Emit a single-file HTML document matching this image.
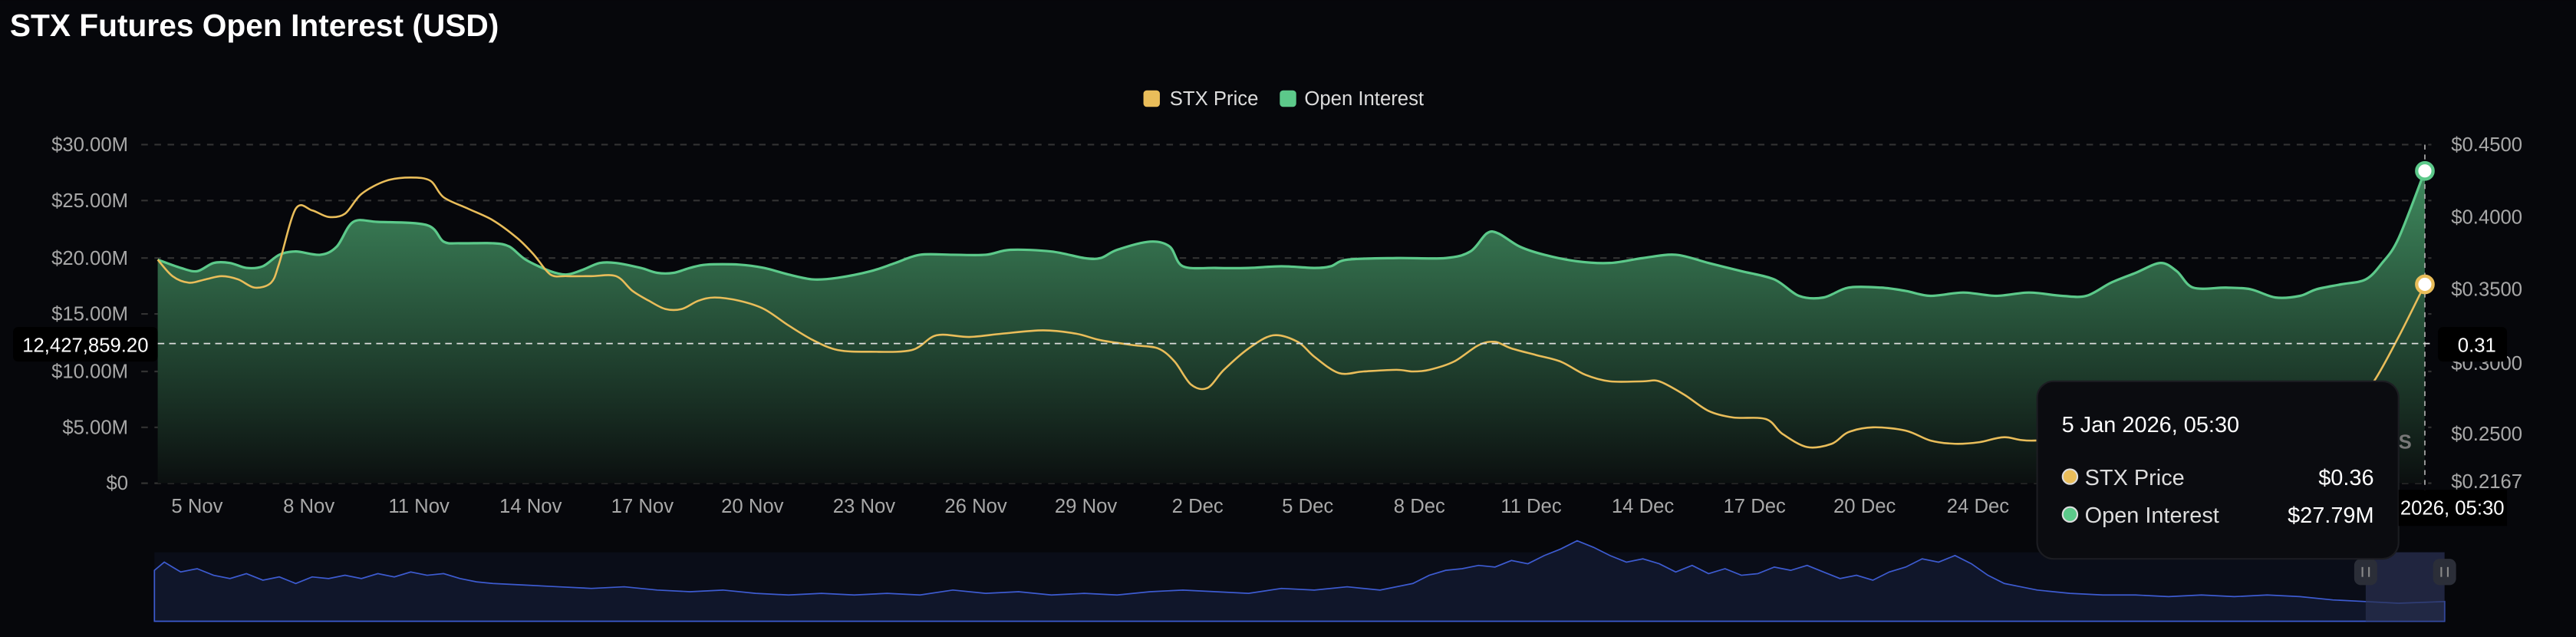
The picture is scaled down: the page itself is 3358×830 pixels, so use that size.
<!DOCTYPE html>
<html><head><meta charset="utf-8"><style>
html,body{margin:0;padding:0;background:#06070b;}
svg{display:block;}
text{font-family:"Liberation Sans",sans-serif;}
</style></head><body>
<svg width="3358" height="830" viewBox="0 0 1568 387.56" xmlns="http://www.w3.org/2000/svg">
<defs>
<linearGradient id="g" x1="0" y1="0" x2="0" y2="1">
<stop offset="0" stop-color="#3f8a5e"/><stop offset="0.45" stop-color="#28543b"/><stop offset="1" stop-color="#0b0f0f"/>
</linearGradient>
</defs>
<rect width="1568" height="388" fill="#06070b"/>
<text x="6" y="22" font-size="19" font-weight="bold" fill="#fff">STX Futures Open Interest (USD)</text>
<rect x="696" y="55" width="10" height="10" rx="2" fill="#e9bd5a"/>
<text x="712" y="64" font-size="12" fill="#ddd">STX Price</text>
<rect x="779" y="55" width="10" height="10" rx="2" fill="#5cc98a"/>
<text x="794" y="64" font-size="12" fill="#ddd">Open Interest</text>
<g stroke="#333" stroke-dasharray="4 4" stroke-width="1">
<line x1="86" y1="88" x2="1480" y2="88"/><line x1="86" y1="122" x2="1480" y2="122"/><line x1="86" y1="157" x2="1480" y2="157"/><line x1="86" y1="191" x2="1480" y2="191"/><line x1="86" y1="226" x2="1480" y2="226"/><line x1="86" y1="260" x2="1480" y2="260"/><line x1="86" y1="294" x2="1480" y2="294"/>
</g>
<g font-size="12" fill="#a8a8a8" text-anchor="end">
<text x="78" y="92">$30.00M</text><text x="78" y="126">$25.00M</text><text x="78" y="161">$20.00M</text><text x="78" y="195">$15.00M</text><text x="78" y="230">$10.00M</text><text x="78" y="264">$5.00M</text><text x="78" y="298">$0</text>
</g>
<g font-size="12" fill="#a8a8a8">
<text x="1492" y="92">$0.4500</text><text x="1492" y="136">$0.4000</text><text x="1492" y="180">$0.3500</text><text x="1492" y="225">$0.3000</text><text x="1492" y="268">$0.2500</text><text x="1492" y="297">$0.2167</text>
</g>
<g font-size="12" fill="#a8a8a8" text-anchor="middle">
<text x="120" y="312">5 Nov</text><text x="188" y="312">8 Nov</text><text x="255" y="312">11 Nov</text><text x="323" y="312">14 Nov</text><text x="391" y="312">17 Nov</text><text x="458" y="312">20 Nov</text><text x="526" y="312">23 Nov</text><text x="594" y="312">26 Nov</text><text x="661" y="312">29 Nov</text><text x="729" y="312">2 Dec</text><text x="796" y="312">5 Dec</text><text x="864" y="312">8 Dec</text><text x="932" y="312">11 Dec</text><text x="1000" y="312">14 Dec</text><text x="1068" y="312">17 Dec</text><text x="1135" y="312">20 Dec</text><text x="1204" y="312">24 Dec</text>
</g>
<path id="oiA" fill="url(#g)" d=""/>
<path id="oiL" fill="none" stroke="#5cc98a" stroke-width="1.5" d=""/>
<path id="prL" fill="none" stroke="#e9bd5a" stroke-width="1.2" d=""/>
<line x1="1476" y1="88" x2="1476" y2="300" stroke="#aaa" stroke-dasharray="3 3" stroke-width="0.8"/>
<line x1="96" y1="209" x2="1480" y2="209" stroke="#ddd" stroke-dasharray="4 3" stroke-width="0.8"/>
<text x="1468" y="273" font-size="12" font-weight="bold" fill="#777" text-anchor="end">SS</text>
<circle cx="1476" cy="104" r="5" fill="#fff" stroke="#5cc98a" stroke-width="2"/>
<circle cx="1476" cy="173" r="5" fill="#fff" stroke="#e9bd5a" stroke-width="2"/>
<rect x="8" y="199" width="88" height="21" rx="3" fill="#000"/>
<text x="52" y="214" font-size="12" fill="#fff" text-anchor="middle">12,427,859.20</text>
<rect x="1484" y="199" width="42" height="21" rx="3" fill="#000"/>
<text x="1496" y="214" font-size="12" fill="#fff">0.31</text>
<rect x="94" y="336" width="1394" height="42" fill="#0a0d18"/>
<path fill="#10162a" stroke="#3d5bd0" stroke-width="0.8" d="M94,347 L100,342 105,345 110,348 120,346 130,350 140,352 150,349 160,353 170,351 180,355 190,351 200,352 210,350 220,352 230,349 240,351 250,348 260,350 270,349 280,352 290,354 300,355 320,356 340,357 360,358 380,357 400,359 420,360 440,359 460,361 480,362 500,361 520,362 540,361 560,362 580,359 600,361 620,360 640,362 660,361 680,362 700,360 720,359 740,360 760,361 780,358 800,359 820,357 840,359 860,355 870,350 880,347 890,346 900,344 910,345 920,341 930,343 940,338 950,334 960,329 970,333 980,338 990,342 1000,340 1010,343 1020,348 1030,344 1040,349 1050,346 1060,350 1070,349 1080,345 1090,347 1100,344 1110,348 1120,352 1130,350 1140,353 1150,348 1160,345 1170,340 1180,342 1190,338 1200,343 1210,350 1220,355 1230,357 1240,359 1260,361 1280,362 1300,362 1320,363 1340,362 1360,363 1380,362 1400,363 1420,365 1440,366 1460,367 1488,366 L1488,378 L94,378 Z"/>
<rect x="1440" y="336" width="48" height="42" fill="#2a3150" opacity="0.7"/>
<rect x="1433" y="340" width="14" height="16" rx="4" fill="#2b2e38"/>
<rect x="1481" y="340" width="14" height="16" rx="4" fill="#2b2e38"/>
<g stroke="#888" stroke-width="1"><line x1="1438" y1="345" x2="1438" y2="351"/><line x1="1442" y1="345" x2="1442" y2="351"/><line x1="1486" y1="345" x2="1486" y2="351"/><line x1="1490" y1="345" x2="1490" y2="351"/></g>
<rect x="1240" y="232" width="220" height="108" rx="10" fill="#0b0c10" stroke="#1c1d22" stroke-width="1"/>
<text x="1255" y="263" font-size="13.5" fill="#fff">5 Jan 2026, 05:30</text>
<circle cx="1260" cy="290" r="4.5" fill="#e9bd5a" stroke="#ddd" stroke-width="1"/>
<text x="1269" y="295" font-size="13.5" fill="#ddd">STX Price</text>
<text x="1445" y="295" font-size="13.5" fill="#fff" text-anchor="end">$0.36</text>
<circle cx="1260" cy="313" r="4.5" fill="#5cc98a" stroke="#ddd" stroke-width="1"/>
<text x="1269" y="318" font-size="13.5" fill="#ddd">Open Interest</text>
<text x="1445" y="318" font-size="13.5" fill="#fff" text-anchor="end">$27.79M</text>
<rect x="1460" y="298" width="66" height="22" fill="#000"/>
<text x="1461" y="313" font-size="12" fill="#fff">2026, 05:30</text>
</svg>
<script>
var oi=[96,158,110,163,120,165,130,160,140,160,150,163,160,162,170,155,180,153,195,155,205,150,215,135,230,135,260,137,270,147,280,148,300,148,310,150,320,158,335,165,345,167,355,164,365,160,375,160,390,163,400,166,410,166,420,163,430,161,450,161,465,163,480,167,495,170,510,169,530,165,545,160,560,155,580,155,600,155,615,152,640,153,660,157,670,157,680,152,700,147,712,150,720,162,740,163,760,163,780,162,800,163,810,162,820,158,850,157,880,157,895,153,905,142,912,142,925,150,940,155,960,159,980,160,1000,157,1020,155,1040,160,1060,165,1080,170,1095,180,1110,181,1125,175,1145,175,1160,177,1175,180,1195,178,1215,180,1235,178,1255,180,1270,180,1285,172,1300,166,1315,160,1325,165,1335,175,1355,175,1370,176,1385,181,1400,180,1410,176,1425,173,1440,170,1450,160,1460,145,1476,104];
var pr=[96,158,105,168,115,172,125,170,135,168,145,170,155,175,165,172,170,160,180,127,190,128,200,132,210,130,220,118,235,110,250,108,262,110,270,120,285,127,300,134,315,145,325,155,335,167,345,168,360,168,375,168,385,177,395,183,405,188,415,188,425,183,435,181,450,183,465,188,480,198,495,207,510,213,530,214,555,213,570,204,590,205,610,203,635,201,655,203,670,207,690,210,705,212,715,220,725,234,735,236,745,225,760,212,775,204,790,208,800,217,815,227,830,226,850,225,860,226,870,225,885,220,900,210,910,208,920,212,935,216,950,220,965,228,980,232,1000,232,1010,232,1025,240,1040,250,1055,254,1075,255,1085,264,1100,272,1115,270,1125,263,1140,260,1160,262,1175,268,1190,270,1205,269,1220,266,1240,268,1300,262,1380,265,1430,250,1445,232,1460,205,1476,173];
function sm(a){var p=[];for(var i=0;i<a.length;i+=2)p.push([a[i],a[i+1]]);var d="M"+p[0][0]+","+p[0][1];for(var i=0;i<p.length-1;i++){var p0=p[i-1]||p[i],p1=p[i],p2=p[i+1],p3=p[i+2]||p2;var t=0.16;d+=" C"+(p1[0]+(p2[0]-p0[0])*t)+","+(p1[1]+(p2[1]-p0[1])*t)+" "+(p2[0]-(p3[0]-p1[0])*t)+","+(p2[1]-(p3[1]-p1[1])*t)+" "+p2[0]+","+p2[1];}return d;}
var o=sm(oi);document.getElementById("oiL").setAttribute("d",o);document.getElementById("oiA").setAttribute("d",o+" L1476,294 L96,294 Z");document.getElementById("prL").setAttribute("d",sm(pr));
</script>
</body></html>
